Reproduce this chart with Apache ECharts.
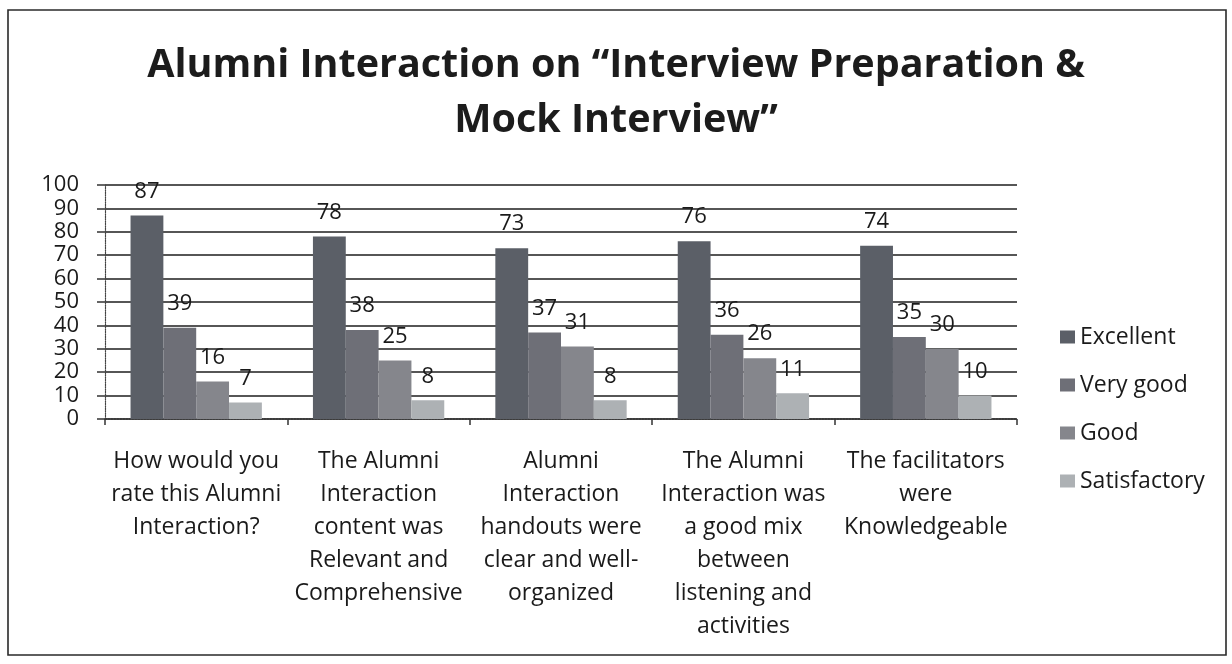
<!DOCTYPE html>
<html>
<head>
<meta charset="utf-8">
<script src="https://cdn.jsdelivr.net/npm/echarts@6/dist/echarts.min.js"></script>
<style>
  html, body { margin: 0; padding: 0; background: #ffffff; }
  #chart { width: 1232px; height: 664px; }
</style>
</head>
<body>
<div id="chart"></div>
<script>
// Survey questions (line breaks as laid out under each group)
const categories = [
  'How would you\nrate this Alumni\nInteraction?',
  'The Alumni\nInteraction\ncontent was\nRelevant and\nComprehensive',
  'Alumni\nInteraction\nhandouts were\nclear and well-\norganized',
  'The Alumni\nInteraction was\na good mix\nbetween\nlistening and\nactivities',
  'The facilitators\nwere\nKnowledgeable'
];

const seriesNames = ['Excellent', 'Very good', 'Good', 'Satisfactory'];

const excellent    = [87, 78, 73, 76, 74];
const veryGood     = [39, 38, 37, 36, 35];
const good         = [16, 25, 31, 26, 30];
const satisfactory = [7, 8, 8, 11, 10];

const yTicks = [0, 10, 20, 30, 40, 50, 60, 70, 80, 90, 100];

const titleText = 'Alumni Interaction on \u201CInterview Preparation &\nMock Interview\u201D';

const colors = ['#5b5f67', '#6e6f77', '#85868c', '#adb1b4'];
const FONT = '"Open Sans", "Noto Sans", sans-serif';

const chart = echarts.init(document.getElementById('chart'), null, { renderer: 'canvas' });

function makeSeries(name, data, color) {
  return {
    name: name,
    type: 'bar',
    data: data,
    barGap: '0%',
    barCategoryGap: '28%',
    itemStyle: { color: color },
    label: {
      show: true,
      position: 'top',
      distance: 13,
      color: '#1a1a1a',
      fontFamily: FONT,
      fontSize: 22
    }
  };
}

chart.setOption({
  backgroundColor: '#ffffff',
  animation: false,
  color: colors,
  title: {
    text: titleText,
    left: 'center',
    top: 33,
    textStyle: {
      fontFamily: FONT,
      fontWeight: 'bold',
      fontSize: 39.5,
      lineHeight: 55,
      color: '#1c1c1c'
    }
  },
  legend: {
    orient: 'vertical',
    left: 1055,
    top: 320,
    itemWidth: 15,
    itemHeight: 13,
    itemGap: 24,
    icon: 'rect',
    data: seriesNames,
    textStyle: { fontFamily: FONT, fontSize: 23, lineHeight: 24, color: '#1a1a1a' }
  },
  grid: {
    left: 105,
    right: 215,
    top: 185,
    bottom: 245,
    containLabel: false
  },
  xAxis: {
    type: 'category',
    data: categories,
    axisLine: { show: true, lineStyle: { color: '#333', width: 1.5, type: 'dotted' } },
    axisTick: { show: true, length: 6, lineStyle: { color: '#333', width: 1.5 } },
    axisLabel: {
      interval: 0,
      margin: 26,
      fontFamily: FONT,
      fontSize: 23,
      lineHeight: 33,
      color: '#1a1a1a',
      align: 'center',
      verticalAlign: 'top'
    }
  },
  yAxis: {
    type: 'value',
    min: 0,
    max: 100,
    interval: 10,
    axisLine: { show: true, lineStyle: { color: '#444', width: 1.2, type: 'dotted' } },
    axisTick: { show: true, length: 8, lineStyle: { color: '#333', width: 1.5 } },
    splitLine: { show: true, lineStyle: { color: '#1e1e1e', width: 1.6 } },
    axisLabel: {
      margin: 26,
      fontFamily: FONT,
      fontSize: 22,
      color: '#1a1a1a',
      formatter: function (v) { return yTicks.indexOf(v) >= 0 ? String(v) : ''; }
    }
  },
  graphic: [{
    type: 'rect',
    shape: { x: 8, y: 10, width: 1218, height: 645 },
    style: { fill: 'none', stroke: '#2a2a2a', lineWidth: 1.6 },
    silent: true,
    z: -1
  }],
  series: [
    makeSeries(seriesNames[0], excellent, colors[0]),
    makeSeries(seriesNames[1], veryGood, colors[1]),
    makeSeries(seriesNames[2], good, colors[2]),
    makeSeries(seriesNames[3], satisfactory, colors[3])
  ]
});
</script>
</body>
</html>
